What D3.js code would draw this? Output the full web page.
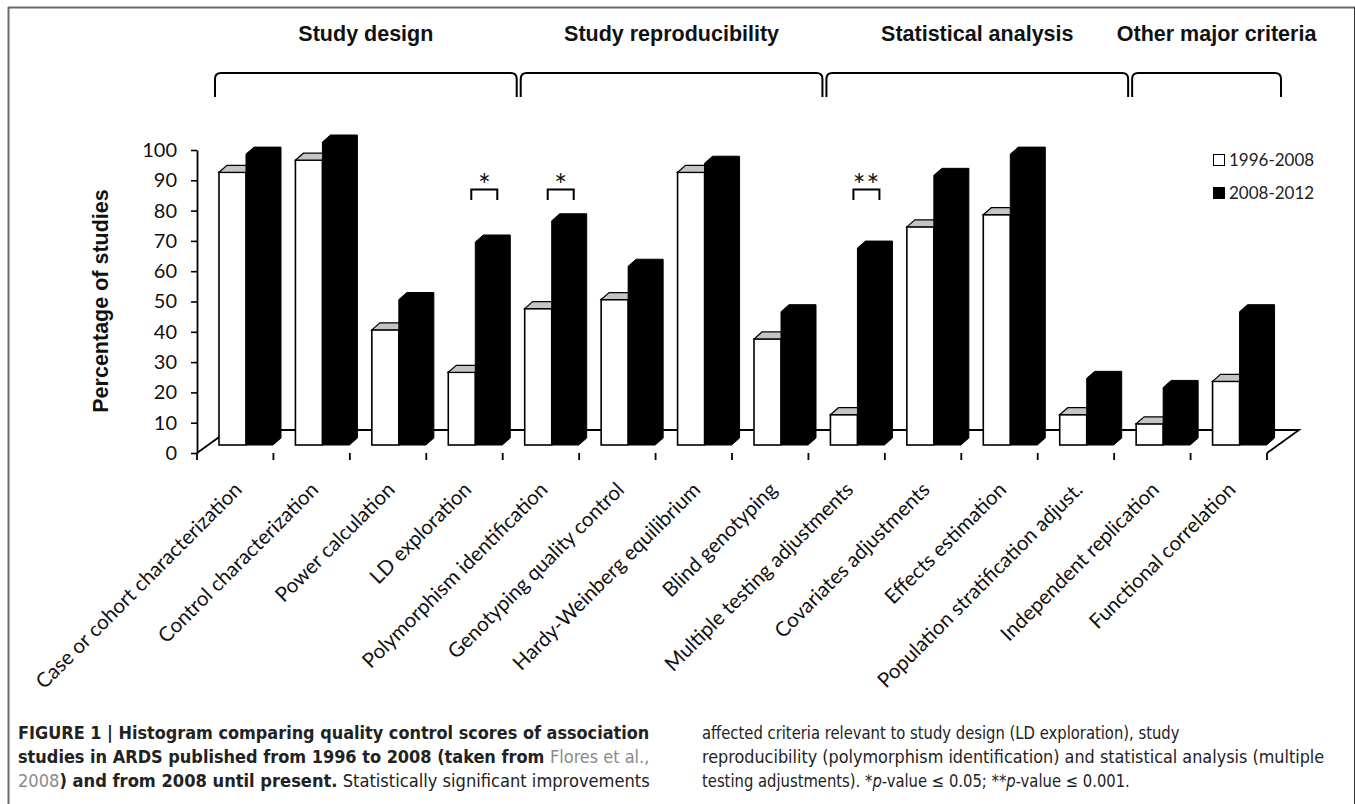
<!DOCTYPE html>
<html><head><meta charset="utf-8">
<script src="https://cdn.jsdelivr.net/npm/d3@7"></script>
<style>body{margin:0;background:#fff}svg{display:block}</style>
</head><body>
<svg id="c" width="1355" height="804"></svg>
<script>
// ---------- data ----------
const categories = [
  "Case or cohort characterization","Control characterization","Power calculation","LD exploration",
  "Polymorphism identification","Genotyping quality control","Hardy-Weinberg equilibrium","Blind genotyping",
  "Multiple testing adjustments","Covariates adjustments","Effects estimation","Population stratification adjust.",
  "Independent replication","Functional correlation"
];
const values1996_2008 = [90, 94, 38, 24, 45, 48, 90, 35, 10, 72, 76, 10, 7, 21];
const values2008_2012 = [96, 100, 48, 67, 74, 59, 93, 44, 65, 89, 96, 22, 19, 44];
const seriesNames = ["1996-2008", "2008-2012"];
const yTickValues = [0,10,20,30,40,50,60,70,80,90,100];
const groupNames = ["Study design","Study reproducibility","Statistical analysis","Other major criteria"];
const groupFirst = ["Case or cohort characterization","Polymorphism identification","Multiple testing adjustments","Independent replication"];
const groupLast  = ["LD exploration","Blind genotyping","Population stratification adjust.","Functional correlation"];
const sigCategories = ["LD exploration","Polymorphism identification","Multiple testing adjustments"];
const sigLabels = ["*","*","**"];
const yTitle = "Percentage of studies";

// ---------- drawing ----------
const svg = d3.select("#c");
const x = d3.scaleBand().domain(categories).range([197, 1267]);
const y = d3.scaleLinear().domain([0, 100]).range([453, 150]);
const bw = x.bandwidth();
const BAR_OFF = 22, BAR_W = 27, DX = 8, DY = -7, LIFT = 8;
const FDX = 32, FDY = -23;
const calib = "Lato, 'Open Sans', sans-serif";

// frame
svg.append("line").attr("x1",8).attr("x2",1355).attr("y1",7.5).attr("y2",7.5).attr("stroke","#6a6a6a").attr("stroke-width",2);
svg.append("line").attr("x1",8.5).attr("x2",8.5).attr("y1",7).attr("y2",804).attr("stroke","#6a6a6a").attr("stroke-width",2);
svg.append("line").attr("x1",1354.5).attr("x2",1354.5).attr("y1",7).attr("y2",804).attr("stroke","#333").attr("stroke-width",1);

// floor
const [fx0, fx1] = x.range(), fy = y(0);
svg.append("path")
  .attr("d", `M${fx0},${fy} L${fx0+FDX},${fy+FDY} L${fx1+FDX},${fy+FDY} L${fx1},${fy}`)
  .attr("fill","none").attr("stroke","#000").attr("stroke-width",1.8);

// bars
const base = y(0) - LIFT;
const bars = svg.append("g");
categories.forEach((c, i) => {
  const x0 = x(c) + BAR_OFF;
  const tw = y(values1996_2008[i]) - LIFT;
  bars.append("rect").attr("x", x0).attr("y", tw).attr("width", BAR_W).attr("height", base - tw)
    .attr("fill","#fff").attr("stroke","#000").attr("stroke-width",1.6);
  bars.append("path")
    .attr("d", `M${x0},${tw} L${x0+DX},${tw+DY} L${x0+BAR_W+DX},${tw+DY} L${x0+BAR_W},${tw} Z`)
    .attr("fill","#c4c4c4").attr("stroke","#000").attr("stroke-width",1.2);
  const xb = x0 + BAR_W;
  const tb = y(values2008_2012[i]) - LIFT;
  bars.append("path")
    .attr("d", `M${xb},${tb} L${xb+DX},${tb+DY} L${xb+BAR_W+DX},${tb+DY} L${xb+BAR_W+DX},${base+DY} L${xb+BAR_W},${base} L${xb},${base} Z`)
    .attr("fill","#000").attr("stroke","#000").attr("stroke-width",1);
});

// y axis
const ya = svg.append("g").attr("transform","translate(197,0)")
  .call(d3.axisLeft(y).tickValues(yTickValues).tickSize(6).tickSizeOuter(0).tickPadding(14));
ya.select(".domain").attr("stroke","#000").attr("stroke-width",1.8);
ya.selectAll(".tick line").attr("stroke","#000").attr("stroke-width",1.6);
ya.selectAll(".tick text").attr("font-family",calib).attr("font-size",20).attr("fill","#111");

// x axis ticks (category boundaries)
const xt = categories.map(c => x(c)).concat([fx1]);
svg.append("g").selectAll("line").data(xt).join("line")
  .attr("x1",d=>d).attr("x2",d=>d).attr("y1",fy).attr("y2",fy+7)
  .attr("stroke","#000").attr("stroke-width",1.8);

// x labels
svg.append("g").selectAll("text").data(categories).join("text")
  .attr("transform", c => `translate(${x(c)+bw/2+8},${fy+38}) rotate(-45)`)
  .attr("text-anchor","end").attr("font-family",calib).attr("font-size",20.5).attr("fill","#111")
  .text(c => c);

// y title
svg.append("text").attr("transform","translate(108,301) rotate(-90)")
  .attr("text-anchor","middle").attr("font-family","'Liberation Sans', Arial, sans-serif")
  .attr("font-weight","bold").attr("font-size",21.5).attr("fill","#111").text(yTitle);

// legend
const lg = svg.append("g");
seriesNames.forEach((s, i) => {
  const ly = 160 + i*33;
  lg.append("rect").attr("x",1213.5).attr("y",ly-5.5).attr("width",11).attr("height",11)
    .attr("fill", i ? "#000" : "#fff").attr("stroke","#000").attr("stroke-width",1);
  lg.append("text").attr("x",1229).attr("y",ly+6).attr("font-family",calib).attr("font-size",17)
    .attr("fill","#222").text(s);
});

// significance brackets
sigCategories.forEach((c, i) => {
  const a = x(c) + 45, b = x(c) + 71, top = 189.5, bot = 200;
  svg.append("path").attr("d",`M${a},${bot} L${a},${top} L${b},${top} L${b},${bot}`)
    .attr("fill","none").attr("stroke","#000").attr("stroke-width",2);
  svg.append("text").attr("x",(a+b)/2).attr("y",196).attr("text-anchor","middle")
    .attr("font-family",calib).attr("font-size",30).attr("letter-spacing", sigLabels[i].length>1?1:0)
    .attr("fill","#111").text(sigLabels[i]);
});

// group braces and titles
groupNames.forEach((g, i) => {
  const a = x(groupFirst[i]) + 18, b = x(groupLast[i]) + bw + 14, t = 73, bot = 97, r = 6;
  svg.append("path")
    .attr("d",`M${a},${bot} L${a},${t+r} Q${a},${t} ${a+r},${t} L${b-r},${t} Q${b},${t} ${b},${t+r} L${b},${bot}`)
    .attr("fill","none").attr("stroke","#000").attr("stroke-width",2);
  svg.append("text").attr("x",(a+b)/2 + (i===3?10:0)).attr("y",41).attr("text-anchor","middle")
    .attr("font-family","'Liberation Sans', Arial, sans-serif").attr("font-weight","bold")
    .attr("font-size",21.5).attr("fill","#111").text(g);
});

// caption
const capFont = "'Liberation Sans Narrow', 'DejaVu Sans Condensed', 'Liberation Sans', sans-serif";
const capLines = [
  {x0:18, x1:650, y:739, parts:[["FIGURE 1 | Histogram comparing quality control scores of association","b"]]},
  {x0:18, x1:650, y:763, parts:[["studies in ARDS published from 1996 to 2008 (taken from ","b"],["Flores et al.,","g"]]},
  {x0:18, x1:650, y:787, parts:[["2008","g"],[") and from 2008 until present.","b"],[" Statistically significant improvements","r"]]},
  {x0:702, x1:1180, y:739, parts:[["affected criteria relevant to study design (LD exploration), study","r"]]},
  {x0:702, x1:1325, y:763, parts:[["reproducibility (polymorphism identification) and statistical analysis (multiple","r"]]},
  {x0:702, x1:1130, y:787, parts:[["testing adjustments). *","r"],["p","i"],["-value \u2264 0.05; **","r"],["p","i"],["-value \u2264 0.001.","r"]]}
];
capLines.forEach(L => {
  const t = svg.append("text").attr("font-family",capFont).attr("font-size",17).attr("fill","#222");
  L.parts.forEach(([s, st]) => {
    t.append("tspan").text(s)
      .attr("font-weight", st==="b" ? "bold" : "normal")
      .attr("font-style", st==="i" ? "italic" : "normal")
      .attr("fill", st==="g" ? "#8a8a8a" : "#222");
  });
  const w = t.node().getComputedTextLength();
  const sx = (L.x1 - L.x0) / w;
  t.attr("transform", `translate(${L.x0},${L.y}) scale(${sx},1)`);
});
</script>
</body></html>
